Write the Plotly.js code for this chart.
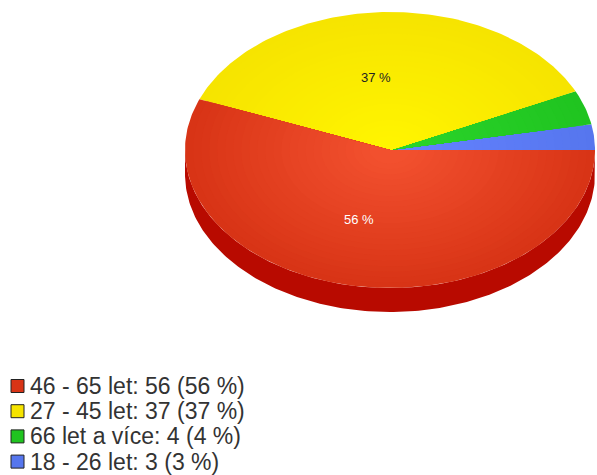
<!DOCTYPE html>
<html>
<head>
<meta charset="utf-8">
<script src="https://cdn.plot.ly/plotly-3.0.1.min.js"></script>
<style>html,body{margin:0;padding:0;background:#fff;}#chart{width:597px;height:475px;}</style>
</head>
<body>
<div id="chart"></div>
<script>
// Data (legend order)
const labels = ['46 - 65 let', '27 - 45 let', '66 let a více', '18 - 26 let'];
const values = [56, 37, 4, 3];
const topColors = ['#d83416', '#f6e400', '#20c420', '#5676ee'];
const centerColors = ['#f2502e', '#fff400', '#2ad42a', '#6482ff'];
const sideColors = ['#b80a00', '#c9b800', '#159a15', '#3a55c0'];
const labelColors = ['#ffffff', '#222222', '#222222', '#222222'];

// Geometry of the 3D ellipse (pixel-like data units)
const cx = 390, cy = 150, rx = 205, ry = 138, depth = 24;

const total = values.reduce((a, b) => a + b, 0);
const traces = [];
const annotations = [];
const shapes = [];
const FONT = 'Liberation Sans, Arial, sans-serif';

function pt(thetaDeg, dy, s) {
  const t = thetaDeg * Math.PI / 180;
  const k = (s === undefined) ? 1 : s;
  return [cx + k * rx * Math.cos(t), cy - k * ry * Math.sin(t) + (dy || 0)];
}
function mix(c1, c2, f) {
  const a = [1, 3, 5].map(j => parseInt(c1.substr(j, 2), 16));
  const b = [1, 3, 5].map(j => parseInt(c2.substr(j, 2), 16));
  return 'rgb(' + a.map((v, j) => Math.round(v + (b[j] - v) * f)).join(',') + ')';
}

// slices counterclockwise from 3 o'clock, smallest first
const order = [3, 2, 1, 0];
let start = 0;
const ranges = {};
order.forEach(i => {
  const span = values[i] / total * 360;
  ranges[i] = [start, start + span];
  start += span;
});

// side walls (front half: 180..360)
order.forEach(i => {
  const a0 = Math.max(ranges[i][0], 180), a1 = Math.min(ranges[i][1], 360);
  if (a1 <= a0) return;
  const xs = [], ys = [];
  for (let a = a0; a <= a1 + 1e-9; a += 1) { const p = pt(Math.min(a, a1)); xs.push(p[0]); ys.push(p[1]); }
  for (let a = a1; a >= a0 - 1e-9; a -= 1) { const p = pt(Math.max(a, a0), depth); xs.push(p[0]); ys.push(p[1]); }
  traces.push({type: 'scatter', mode: 'lines', x: xs, y: ys, fill: 'toself',
    fillcolor: sideColors[i], line: {width: 0, color: sideColors[i]}, showlegend: false, hoverinfo: 'skip'});
});

// top faces, with a soft radial shading (nested scaled copies of the sector)
const nLayers = 24;
order.forEach(i => {
  const a0 = ranges[i][0], a1 = ranges[i][1];
  for (let li = 0; li < nLayers; li++) {
    const s = 1 - 0.9 * li / (nLayers - 1);
    const col = mix(topColors[i], centerColors[i], li / (nLayers - 1));
    const xs = [cx], ys = [cy];
    for (let a = a0; a < a1; a += 1) { const p = pt(a, 0, s); xs.push(p[0]); ys.push(p[1]); }
    const pe = pt(a1, 0, s); xs.push(pe[0]); ys.push(pe[1]);
    xs.push(cx); ys.push(cy);
    traces.push({type: 'scatter', mode: 'lines', x: xs, y: ys, fill: 'toself',
      fillcolor: col, line: {width: 0, color: col}, showlegend: false, hoverinfo: 'skip'});
  }
  const pct = Math.round(values[i] / total * 100);
  if (pct >= 10) {
    const mid = (a0 + a1) / 2 * Math.PI / 180;
    annotations.push({x: cx + rx * 0.52 * Math.cos(mid), y: cy - ry * 0.52 * Math.sin(mid),
      xref: 'x', yref: 'y', text: pct + ' %', showarrow: false, xshift: -11, yshift: 1,
      font: {family: FONT, size: 13, color: labelColors[i]}});
  }
});

// legend (squares + text), rows built from the data arrays
const legTop = 386, legStep = 25.2, sq = 13;
labels.forEach((lab, i) => {
  const pct = Math.round(values[i] / total * 100);
  const yc = legTop + i * legStep;
  shapes.push({type: 'rect', xref: 'x', yref: 'y', x0: 11, x1: 11 + sq, y0: yc - sq / 2, y1: yc + sq / 2,
    fillcolor: topColors[i], line: {color: '#222', width: 1}});
  annotations.push({x: 28, y: yc, xref: 'x', yref: 'y', xanchor: 'left', yanchor: 'middle',
    text: lab + ': ' + values[i] + ' (' + pct + ' %)', showarrow: false,
    font: {family: FONT, size: 23, color: '#333'}});
});

const layout = {
  width: 597, height: 475,
  margin: {l: 0, r: 0, t: 0, b: 0},
  paper_bgcolor: '#ffffff', plot_bgcolor: '#ffffff',
  xaxis: {range: [0, 597], visible: false, fixedrange: true},
  yaxis: {range: [475, 0], visible: false, fixedrange: true},
  showlegend: false,
  annotations: annotations,
  shapes: shapes
};

Plotly.newPlot('chart', traces, layout, {displayModeBar: false, staticPlot: true});
</script>
</body>
</html>
